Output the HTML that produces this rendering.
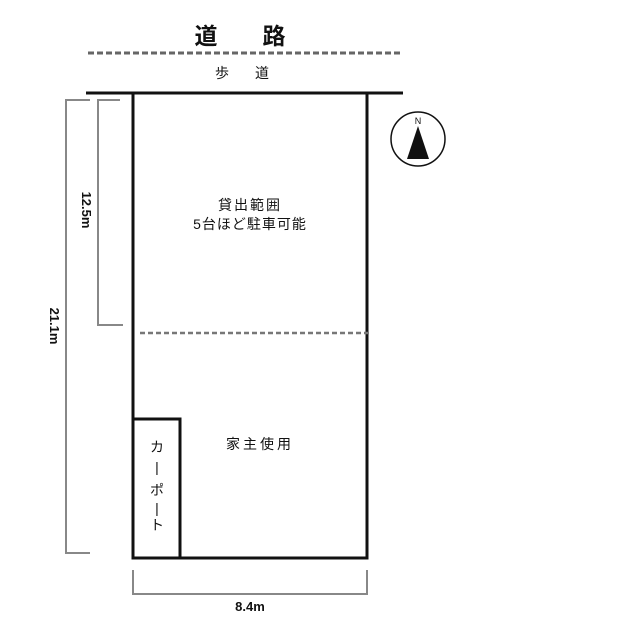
<!DOCTYPE html><html><head><meta charset="utf-8"><style>body{margin:0;background:#fff}svg{display:block}text{font-family:"Liberation Sans","Noto Sans CJK JP",sans-serif;fill:#111}</style></head><body>
<svg width="640" height="640" viewBox="0 0 640 640">
<text x="206" y="44" font-size="23" font-weight="bold" text-anchor="middle">道</text>
<text x="274" y="44" font-size="23" font-weight="bold" text-anchor="middle">路</text>
<line x1="88" y1="53" x2="402" y2="53" stroke="#666" stroke-width="3" stroke-dasharray="6,3"/>
<text x="222" y="78" font-size="14" text-anchor="middle">歩</text>
<text x="262" y="78" font-size="14" text-anchor="middle">道</text>
<line x1="86" y1="93" x2="403" y2="93" stroke="#111" stroke-width="3"/>
<path d="M133,93 V558 H367 V93" fill="none" stroke="#111" stroke-width="3"/>
<path d="M134,419 H180 V558" fill="none" stroke="#111" stroke-width="3"/>
<line x1="140" y1="333" x2="370" y2="333" stroke="#777" stroke-width="2.5" stroke-dasharray="5,3"/>
<path d="M120,100 H98 V325 H123" fill="none" stroke="#888" stroke-width="2"/>
<path d="M90,100 H66 V553 H90" fill="none" stroke="#888" stroke-width="2"/>
<path d="M133,570 V594 H367 V570" fill="none" stroke="#888" stroke-width="2"/>
<text x="250" y="611" font-size="13" font-weight="bold" text-anchor="middle">8.4m</text>
<text transform="translate(82,210) rotate(90)" font-size="13" font-weight="bold" text-anchor="middle">12.5m</text>
<text transform="translate(50,326) rotate(90)" font-size="13" font-weight="bold" text-anchor="middle">21.1m</text>
<circle cx="418" cy="139" r="27" fill="none" stroke="#111" stroke-width="1.5"/>
<text x="418" y="124" font-size="9" text-anchor="middle">N</text>
<polygon points="418,126 407,159 429,159" fill="#111"/>
<text x="250" y="210" font-size="14" text-anchor="middle" letter-spacing="2">貸出範囲</text>
<text x="250" y="229" font-size="14" text-anchor="middle" letter-spacing="1">5台ほど駐車可能</text>
<text x="260" y="449" font-size="14" text-anchor="middle" letter-spacing="3">家主使用</text>
<text x="157" y="452" font-size="14" text-anchor="middle">カ</text>
<text x="157" y="472" font-size="14" text-anchor="middle">|</text>
<text x="157" y="495" font-size="14" text-anchor="middle">ポ</text>
<text x="157" y="513" font-size="14" text-anchor="middle">|</text>
<text x="157" y="530" font-size="14" text-anchor="middle">ト</text>
</svg></body></html>
